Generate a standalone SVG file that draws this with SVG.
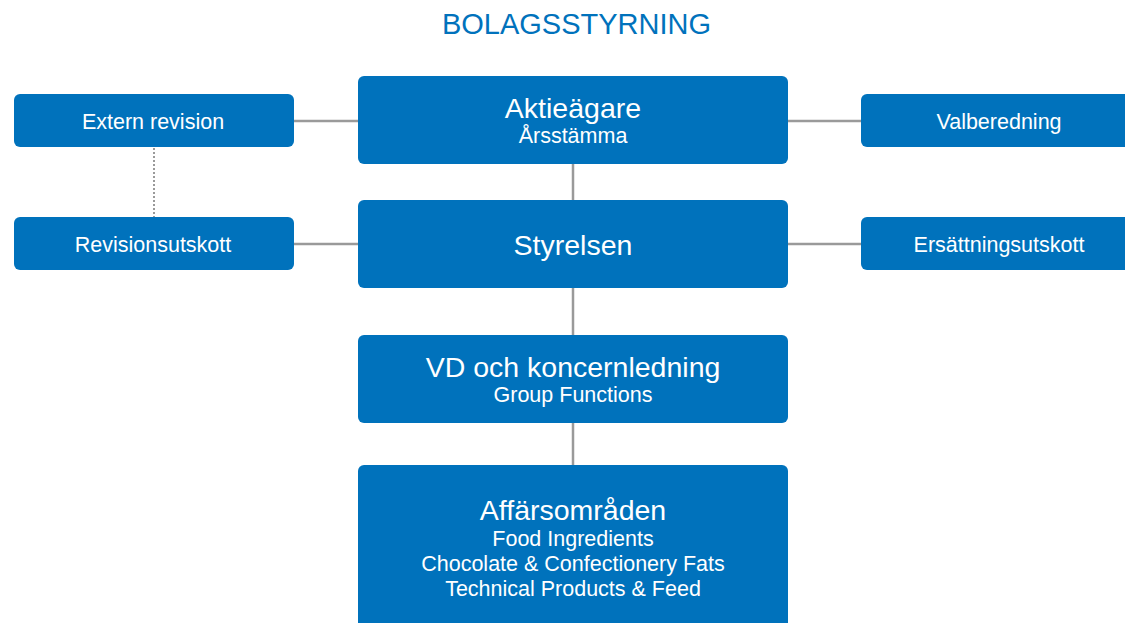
<svg xmlns="http://www.w3.org/2000/svg" width="1125" height="623" viewBox="0 0 1125 623">
<style>
.box{fill:#0072BC;}
.t{font-family:"Liberation Sans",Arial,sans-serif;fill:#fff;text-anchor:middle;}
.big{font-size:28.5px;}
.sm{font-size:21.5px;}
.ln{stroke:#9a9a9a;stroke-width:2.5;fill:none;}
.dot{stroke:#9a9a9a;stroke-width:2;stroke-dasharray:2 2;fill:none;}
</style>
<rect width="1125" height="623" fill="#fff"/>
<text x="576.5" y="34" font-family="Liberation Sans,Arial,sans-serif" font-size="29" fill="#0072BC" text-anchor="middle">BOLAGSSTYRNING</text>
<g id="connectors">
<line class="ln" x1="573" y1="164" x2="573" y2="200"/>
<line class="ln" x1="573" y1="288" x2="573" y2="335"/>
<line class="ln" x1="573" y1="423" x2="573" y2="465"/>
<line class="ln" x1="294" y1="121" x2="358" y2="121"/>
<line class="ln" x1="788" y1="121" x2="861" y2="121"/>
<line class="ln" x1="294" y1="244" x2="358" y2="244"/>
<line class="ln" x1="788" y1="244" x2="861" y2="244"/>
<line class="dot" x1="154" y1="148" x2="154" y2="217"/>
</g>
<g id="aktieagare">
<rect class="box" x="358" y="76" width="430" height="88" rx="6"/>
<text class="t big" x="573" y="118">Aktieägare</text>
<text class="t sm" x="573" y="143">Årsstämma</text>
</g>
<g id="styrelsen">
<rect class="box" x="358" y="200" width="430" height="88" rx="6"/>
<text class="t big" x="573" y="255">Styrelsen</text>
</g>
<g id="vd">
<rect class="box" x="358" y="335" width="430" height="88" rx="6"/>
<text class="t big" x="573" y="377">VD och koncernledning</text>
<text class="t sm" x="573" y="402">Group Functions</text>
</g>
<g id="affarsomraden">
<rect class="box" x="358" y="465" width="430" height="170" rx="6"/>
<text class="t big" x="573" y="520">Affärsområden</text>
<text class="t sm" x="573" y="546">Food Ingredients</text>
<text class="t sm" x="573" y="571">Chocolate &amp; Confectionery Fats</text>
<text class="t sm" x="573" y="596">Technical Products &amp; Feed</text>
</g>
<g id="extern-revision">
<rect class="box" x="14" y="94" width="280" height="53" rx="6"/>
<text class="t sm" x="153" y="129">Extern revision</text>
</g>
<g id="revisionsutskott">
<rect class="box" x="14" y="217" width="280" height="53" rx="6"/>
<text class="t sm" x="153" y="252">Revisionsutskott</text>
</g>
<g id="valberedning">
<rect class="box" x="861" y="94" width="276" height="53" rx="6"/>
<text class="t sm" x="999" y="129">Valberedning</text>
</g>
<g id="ersattningsutskott">
<rect class="box" x="861" y="217" width="276" height="53" rx="6"/>
<text class="t sm" x="999" y="252">Ersättningsutskott</text>
</g>
</svg>
